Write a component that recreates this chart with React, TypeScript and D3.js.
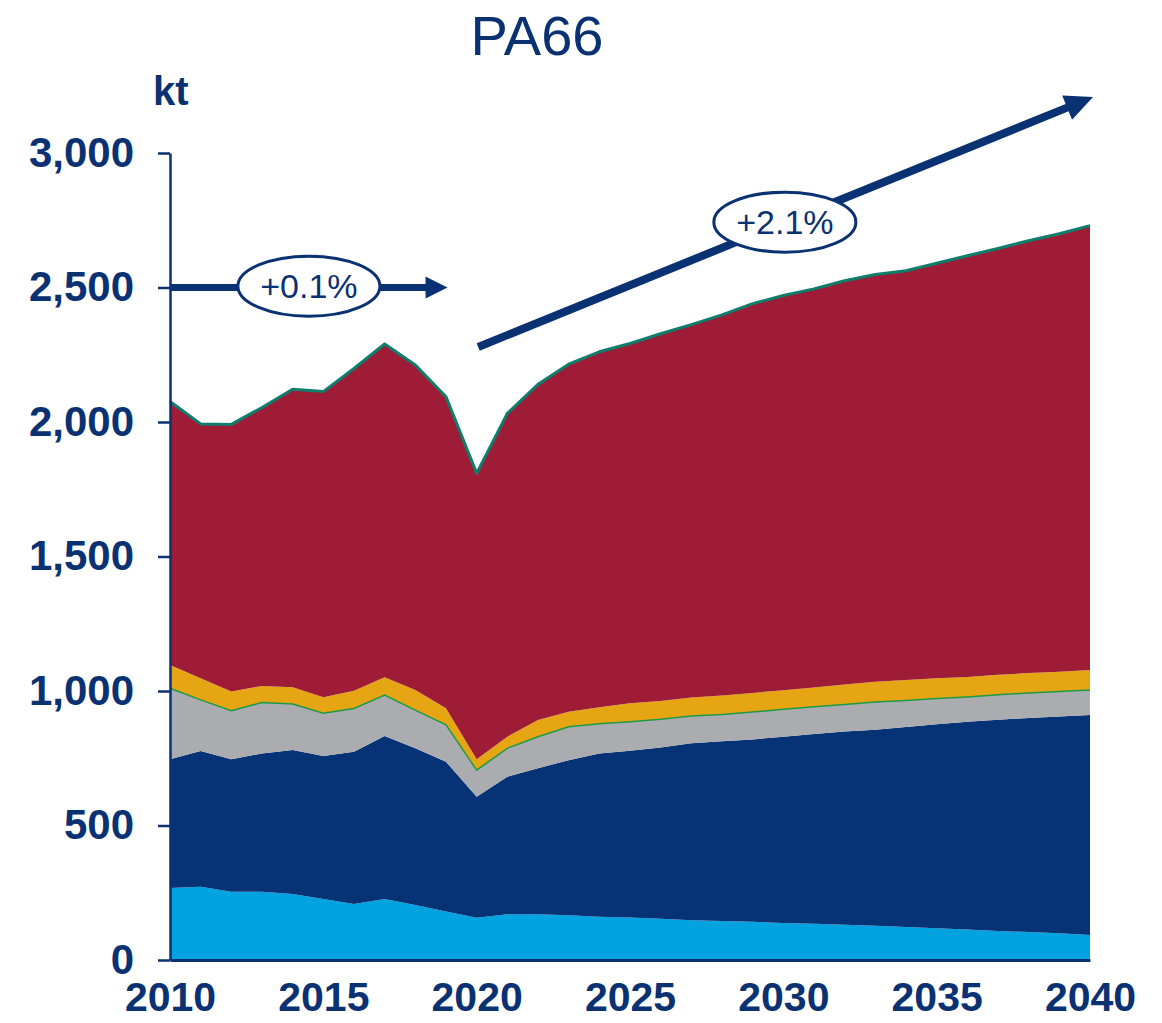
import * as d3 from "d3";
import { useEffect, useRef } from "react";

// Years on the x axis
const years: number[] = d3.range(2010, 2041);

// Series values in kt (bottom to top of the stack)
const lightBlue: number[] = [
  268, 272, 254, 254, 245, 227, 208, 227, 204, 180, 157, 170, 170, 166, 161, 158,
  153, 148, 145, 142, 138, 135, 131, 127, 123, 118, 113, 108, 104, 99, 93,
];
const navy: number[] = [
  478, 505, 492, 514, 536, 531, 566, 606, 583, 557, 450, 511, 543, 577, 607, 620,
  637, 658, 668, 678, 692, 705, 718, 729, 743, 758, 773, 785, 796, 806, 818,
];
const gray: number[] = [
  264, 190, 181, 189, 171, 159, 161, 152, 142, 137, 99, 106, 117, 124, 110, 108,
  105, 101, 100, 102, 102, 101, 101, 103, 99, 96, 92, 93, 93, 93, 93,
];
const yellow: number[] = [
  87, 80, 71, 62, 62, 60, 66, 66, 75, 62, 40, 43, 62, 56, 62, 68, 68, 69, 70, 71,
  71, 72, 74, 75, 76, 75, 74, 74, 74, 74, 74,
];
const red: number[] = [
  979, 946, 993, 1035, 1108, 1136, 1198, 1239, 1208, 1158, 1063, 1202, 1248, 1292,
  1321, 1338, 1365, 1386, 1415, 1447, 1467, 1482, 1501, 1514, 1521, 1543, 1566,
  1585, 1607, 1628, 1652,
];

const yTicks: number[] = [0, 500, 1000, 1500, 2000, 2500, 3000];
const xTicks: number[] = [2010, 2015, 2020, 2025, 2030, 2035, 2040];

const keys = ["lightBlue", "navy", "gray", "yellow", "red"];
const colors: Record<string, string> = {
  lightBlue: "#00a3e0",
  navy: "#063376",
  gray: "#abacaf",
  yellow: "#e6a614",
  red: "#9e1c36",
};

// Growth annotations (CAGR), in data units
const cagrShort = { label: "+0.1%", from: [2010, 2500], to: [2019.05, 2500], at: [2014.53, 2505] };
const cagrLong = { label: "+2.1%", from: [2020.05, 2279], to: [2040.1, 3208], at: [2030.05, 2743] };

const ink = "#0a3172";

export default function App() {
  const width = 1162;
  const height = 1023;
  const marginTop = 153;
  const marginRight = 72;
  const marginBottom = 63;
  const marginLeft = 170;
  const svgRef = useRef<SVGSVGElement>(null);

  useEffect(() => {
    const svg = d3.select(svgRef.current);
    svg.selectAll("*").remove();

    const table = years.map((year, i) => ({
      year,
      lightBlue: lightBlue[i],
      navy: navy[i],
      gray: gray[i],
      yellow: yellow[i],
      red: red[i],
    }));

    const x = d3
      .scaleLinear()
      .domain([2010, 2040])
      .range([marginLeft, width - marginRight]);
    const y = d3
      .scaleLinear()
      .domain([0, 3000])
      .range([height - marginBottom, marginTop]);

    const series = d3.stack<any>().keys(keys)(table);

    const area = d3
      .area<any>()
      .x((d) => x(d.data.year))
      .y0((d) => y(d[0]))
      .y1((d) => y(d[1]));

    svg
      .append("g")
      .selectAll("path")
      .data(series)
      .join("path")
      .attr("fill", (s) => colors[s.key])
      .attr("d", area);

    const topLine = d3
      .line<any>()
      .x((d) => x(d.data.year))
      .y((d) => y(d[1]));

    // thin green band on top of the gray layer
    svg
      .append("path")
      .datum(series[2])
      .attr("fill", "none")
      .attr("stroke", "#1d9a45")
      .attr("stroke-width", 1.5)
      .attr("d", topLine);

    // thin teal band on top of the stack
    svg
      .append("path")
      .datum(series[4])
      .attr("fill", "none")
      .attr("stroke", "#0f7d6c")
      .attr("stroke-width", 3)
      .attr("stroke-linejoin", "round")
      .attr("d", topLine);

    // Y axis
    const yAxis = svg
      .append("g")
      .attr("transform", `translate(${marginLeft},0)`)
      .call(
        d3
          .axisLeft(y)
          .tickValues(yTicks)
          .tickSize(12)
          .tickSizeOuter(0)
          .tickPadding(24)
          .tickFormat(d3.format(","))
      );
    yAxis.select(".domain").attr("stroke", ink).attr("stroke-width", 2.5);
    yAxis.selectAll(".tick line").attr("stroke", ink).attr("stroke-width", 2.5);
    yAxis
      .selectAll(".tick text")
      .attr("fill", ink)
      .attr("font-family", "Liberation Sans, Arial, sans-serif")
      .attr("font-weight", "bold")
      .attr("font-size", 42);

    // X axis
    const xAxis = svg
      .append("g")
      .attr("transform", `translate(0,${height - marginBottom})`)
      .call(
        d3
          .axisBottom(x)
          .tickValues(xTicks)
          .tickSize(0)
          .tickPadding(22)
          .tickFormat(d3.format("d"))
      );
    xAxis.select(".domain").attr("stroke", ink).attr("stroke-width", 3);
    xAxis
      .selectAll(".tick text")
      .attr("fill", ink)
      .attr("font-family", "Liberation Sans, Arial, sans-serif")
      .attr("font-weight", "bold")
      .attr("font-size", 41);

    // CAGR arrows
    const drawArrow = (a: typeof cagrShort, lw: number, headLen: number, headHalf: number) => {
      const x0 = x(a.from[0]);
      const y0 = y(a.from[1]);
      const x1 = x(a.to[0]);
      const y1 = y(a.to[1]);
      const len = Math.hypot(x1 - x0, y1 - y0);
      const ux = (x1 - x0) / len;
      const uy = (y1 - y0) / len;
      const bx = x1 - ux * headLen;
      const by = y1 - uy * headLen;
      svg
        .append("line")
        .attr("x1", x0)
        .attr("y1", y0)
        .attr("x2", bx + ux * 2)
        .attr("y2", by + uy * 2)
        .attr("stroke", ink)
        .attr("stroke-width", lw);
      svg
        .append("polygon")
        .attr(
          "points",
          [
            [x1, y1],
            [bx - uy * headHalf, by + ux * headHalf],
            [bx + uy * headHalf, by - ux * headHalf],
          ]
            .map((p) => p.join(","))
            .join(" ")
        )
        .attr("fill", ink);
      const cx = x(a.at[0]);
      const cy = y(a.at[1]);
      svg
        .append("ellipse")
        .attr("cx", cx)
        .attr("cy", cy)
        .attr("rx", 71)
        .attr("ry", 30)
        .attr("fill", "white")
        .attr("stroke", ink)
        .attr("stroke-width", 3);
      svg
        .append("text")
        .attr("x", cx)
        .attr("y", cy + 12)
        .attr("text-anchor", "middle")
        .attr("fill", ink)
        .attr("font-family", "Liberation Sans, Arial, sans-serif")
        .attr("font-size", 34)
        .text(a.label);
    };
    drawArrow(cagrShort, 7, 22, 11);
    drawArrow(cagrLong, 8, 28, 13);

    // Title and unit
    svg
      .append("text")
      .attr("x", 537)
      .attr("y", 55)
      .attr("text-anchor", "middle")
      .attr("fill", ink)
      .attr("font-family", "Liberation Sans, Arial, sans-serif")
      .attr("font-size", 56)
      .text("PA66");
    svg
      .append("text")
      .attr("x", 153)
      .attr("y", 105)
      .attr("fill", ink)
      .attr("font-family", "Liberation Sans, Arial, sans-serif")
      .attr("font-weight", "bold")
      .attr("font-size", 40)
      .text("kt");
  }, []);

  return (
    <svg
      ref={svgRef}
      width={width}
      height={height}
      style={{ position: "absolute", left: 0, top: 0, background: "white" }}
    />
  );
}
